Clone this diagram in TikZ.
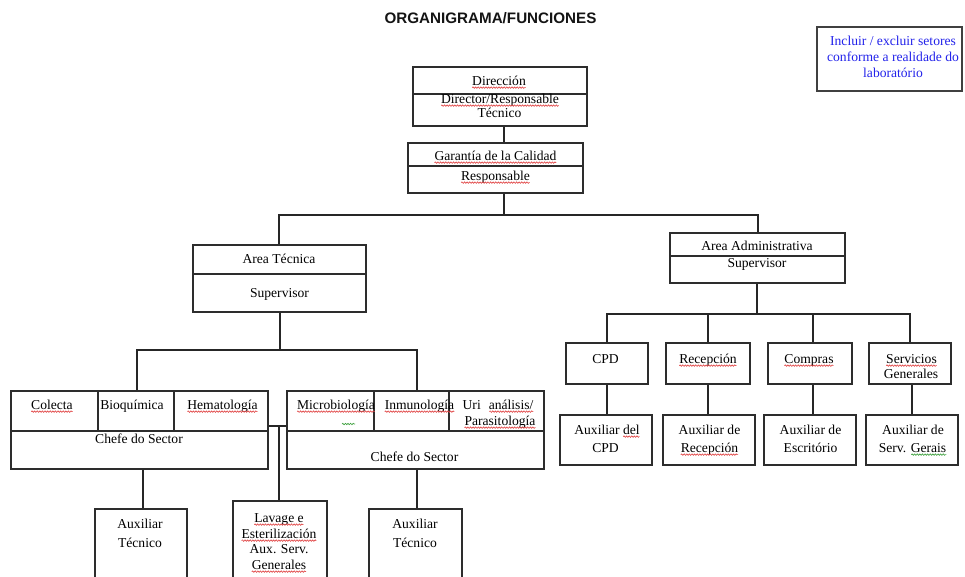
\documentclass[tikz,border=0pt]{standalone}
\usepackage{fontspec}
\setmainfont{Liberation Serif}
\newfontfamily\titlefont{Liberation Sans}
\usetikzlibrary{decorations.pathmorphing}
\definecolor{edge}{RGB}{45,45,45}
\definecolor{notetext}{RGB}{35,35,235}
\definecolor{spellred}{RGB}{225,70,70}
\definecolor{spellgreen}{RGB}{60,160,60}
\tikzset{
  box/.style={draw=edge, line width=1.2pt, rectangle, inner sep=0pt},
  wire/.style={draw=black!85, line width=1.2pt},
  lbl/.style={anchor=base, inner sep=0pt, outer sep=0pt,
    font=\fontsize{13.6}{16}\selectfont, text=black},
  notelbl/.style={lbl, text=notetext},
  squig/.style={draw=spellred, line width=0.65pt, decorate,
    decoration={snake, amplitude=0.7pt, segment length=2.6pt}},
}
% wavy proofing mark under a whole text node
\newcommand\proofmark[2][spellred]{%
  \draw[squig, draw=#1] ([yshift=-2.6pt]#2.base west) -- ([yshift=-2.6pt]#2.base east);}
% wavy proofing mark under the last part (given width) of a text node
\newcommand\proofmarkend[3][spellred]{%
  \draw[squig, draw=#1] ([xshift=-#3,yshift=-2.6pt]#2.base east) -- ([yshift=-2.6pt]#2.base east);}

\begin{document}
\begin{tikzpicture}[x=1pt, y=-1pt]
\useasboundingbox (0,0) rectangle (965,576);
\fill[white] (0,0) rectangle (965,576);
\clip (0,0) rectangle (965,576);

% ---------- title and note ----------
\node[anchor=base, inner sep=0pt, font=\titlefont\bfseries\fontsize{15.2}{18}\selectfont, text=black!92]
  (title) at (490.5,23) {ORGANIGRAMA/FUNCIONES};
\node[box, draw=black!75, minimum width=145pt, minimum height=64pt] (note) at (889.5,59) {};
\node[notelbl] (noteA) at (893,45) {Incluir / excluir setores};
\node[notelbl] (noteB) at (893,61) {conforme a realidade do};
\node[notelbl] (noteC) at (893,77) {laboratório};

% ---------- boxes ----------
\node[box, minimum width=174pt, minimum height=59pt] (dir) at (500,96.5) {};
\node[box, minimum width=175pt, minimum height=50pt] (gar) at (495.5,168) {};
\node[box, minimum width=173pt, minimum height=67pt] (tec) at (279.5,278.5) {};
\node[box, minimum width=175pt, minimum height=50pt] (adm) at (757.5,258) {};
\node[box, minimum width=257pt, minimum height=78pt] (gl) at (139.5,430) {};
\node[box, minimum width=257pt, minimum height=78pt] (gr) at (415.5,430) {};
\node[box, minimum width=92pt, minimum height=81pt] (auxL) at (141,549.5) {};
\node[box, minimum width=94pt, minimum height=89pt] (lav) at (280,545.5) {};
\node[box, minimum width=93pt, minimum height=81pt] (auxR) at (415.5,549.5) {};
\node[box, minimum width=82pt, minimum height=41pt] (cpd) at (607,363.5) {};
\node[box, minimum width=84pt, minimum height=41pt] (rec) at (708,363.5) {};
\node[box, minimum width=84pt, minimum height=41pt] (com) at (810,363.5) {};
\node[box, minimum width=82pt, minimum height=41pt] (ser) at (910,363.5) {};
\node[box, minimum width=92pt, minimum height=50pt] (acpd) at (606,440) {};
\node[box, minimum width=92pt, minimum height=50pt] (arec) at (709,440) {};
\node[box, minimum width=92pt, minimum height=50pt] (aesc) at (810,440) {};
\node[box, minimum width=92pt, minimum height=50pt] (aser) at (912,440) {};

% ---------- internal dividers ----------
\begin{scope}[draw=edge, line width=1.2pt]
  \draw (dir.west |- 0,94) -- (dir.east |- 0,94);
  \draw (gar.west |- 0,166) -- (gar.east |- 0,166);
  \draw (tec.west |- 0,274) -- (tec.east |- 0,274);
  \draw (adm.west |- 0,256) -- (adm.east |- 0,256);
  \draw (gl.west |- 0,431) -- (gl.east |- 0,431);
  \draw (gl.north -| 98,0) -- (98,431);
  \draw (gl.north -| 174,0) -- (174,431);
  \draw (gr.west |- 0,431) -- (gr.east |- 0,431);
  \draw (gr.north -| 374,0) -- (374,431);
  \draw (gr.north -| 449,0) -- (449,431);
\end{scope}

% ---------- connectors ----------
\coordinate (spine) at (504,215);
\coordinate (j1L) at (279,215);
\coordinate (j1R) at (758,215);
\coordinate (j2) at (280,350);
\coordinate (j2L) at (137,350);
\coordinate (j2R) at (417,350);
\coordinate (bridge) at (279,426);
\coordinate (j3) at (757,314);

\draw[wire] (dir.south -| spine) -- (gar.north -| spine);
\draw[wire] (gar.south -| spine) -- (spine);
\draw[wire] (tec.north -| j1L) -- (j1L) -- (j1R) -- (adm.north -| j1R);
\draw[wire] (tec.south -| j2) -- (j2);
\draw[wire] (gl.north -| j2L) -- (j2L) -- (j2R) -- (gr.north -| j2R);
\draw[wire] (gl.south -| 143,0) -- (auxL.north -| 143,0);
\draw[wire] (gr.south -| 417,0) -- (auxR.north -| 417,0);
\draw[wire] (bridge -| gl.east) -- (bridge -| gr.west);
\draw[wire] (bridge) -- (bridge |- lav.north);
\draw[wire] (adm.south -| j3) -- (j3);
\draw[wire] (cpd.north) -- (cpd.north |- j3) -- (ser.north |- j3) -- (ser.north);
\draw[wire] (rec.north) -- (rec.north |- j3);
\draw[wire] (com.north -| 813,0) -- (813,314);
\draw[wire] (cpd.south) -- (acpd.north -| cpd.south);
\draw[wire] (rec.south) -- (arec.north -| rec.south);
\draw[wire] (com.south -| 813,0) -- (aesc.north -| 813,0);
\draw[wire] (ser.south -| 912,0) -- (aser.north -| 912,0);

% ---------- labels ----------
\node[lbl] (dirA) at (499,85) {Dirección};
\node[lbl] (dirB) at (500,103) {Director/Responsable};
\node[lbl] (dirC) at (499.5,117) {Técnico};
\node[lbl] (garA) at (495.5,160) {Garantía de la Calidad};
\node[lbl] (garB) at (495.5,180) {Responsable};
\node[lbl] (tecA) at (279,263) {Area Técnica};
\node[lbl] (tecB) at (279.5,297) {Supervisor};
\node[lbl] (admA) at (757,250) {Area Administrativa};
\node[lbl] (admB) at (757,267) {Supervisor};

\node[lbl] (colecta) at (52,409) {Colecta};
\node[lbl] (bioq) at (132,409) {Bioquímica};
\node[lbl] (hemat) at (222.5,409) {Hematología};
\node[lbl] (chefeL) at (139,443) {Chefe do Sector};

\node[lbl] (micro) at (336,409) {Microbiología};
\node[lbl] (inmu) at (419.5,409) {Inmunología};
\node[lbl] (uri) at (498,409) {Uri\hspace{8pt}análisis/};
\node[lbl] (para) at (500,425) {Parasitología};
\node[lbl] (chefeR) at (414.5,461) {Chefe do Sector};

\node[lbl] (auxLA) at (140,528) {Auxiliar};
\node[lbl] (auxLB) at (140,547) {Técnico};
\node[lbl] (lavA) at (279,522) {Lavage e};
\node[lbl] (lavB) at (279,538) {Esterilización};
\node[lbl] (lavC) at (279,553) {Aux. Serv.};
\node[lbl] (lavD) at (279,569) {Generales};
\node[lbl] (auxRA) at (415,528) {Auxiliar};
\node[lbl] (auxRB) at (415,547) {Técnico};

\node[lbl] (cpdA) at (605.5,363) {CPD};
\node[lbl] (recA) at (708,363) {Recepción};
\node[lbl] (comA) at (809,363) {Compras};
\node[lbl] (serA) at (911.5,363) {Servicios};
\node[lbl] (serB) at (911,378) {Generales};

\node[lbl] (acpdA) at (607,434) {Auxiliar del};
\node[lbl] (acpdB) at (605.5,452) {CPD};
\node[lbl] (arecA) at (709.5,434) {Auxiliar de};
\node[lbl] (arecB) at (709.5,452) {Recepción};
\node[lbl] (aescA) at (810.5,434) {Auxiliar de};
\node[lbl] (aescB) at (810.5,452) {Escritório};
\node[lbl] (aserA) at (913,434) {Auxiliar de};
\node[lbl] (aserB) at (912.5,452) {Serv. Gerais};

% ---------- proofing marks ----------
\proofmark{dirA}
\proofmark{dirB}
\proofmark{garA}
\proofmark{garB}
\proofmark{colecta}
\proofmark{hemat}
\proofmark{micro}
\proofmark{inmu}
\proofmarkend{uri}{44pt}
\proofmark{para}
\proofmark{lavA}
\proofmark{lavB}
\proofmark{lavD}
\proofmark{recA}
\proofmark{comA}
\proofmark{serA}
\proofmarkend{acpdA}{16.5pt}
\proofmark{arecB}
\proofmarkend[spellgreen]{aserB}{35pt}
\draw[squig, draw=spellgreen] (342,424) -- (355,424);
\end{tikzpicture}
\end{document}
